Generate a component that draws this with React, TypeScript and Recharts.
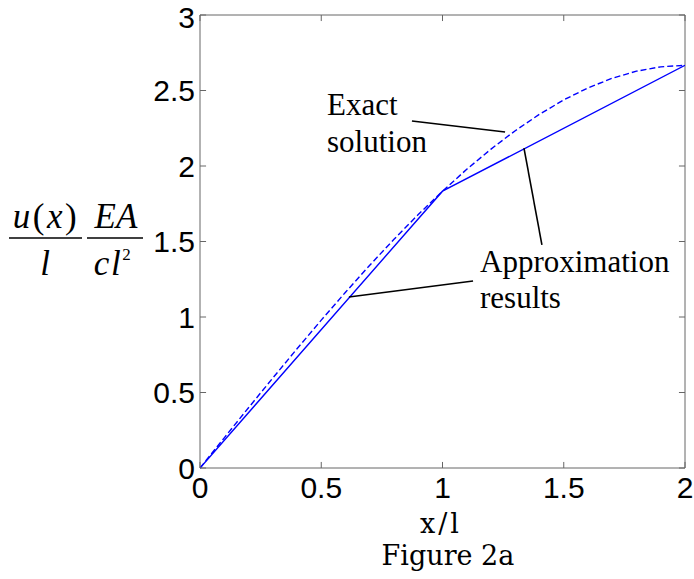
import {
  LineChart,
  Line,
  XAxis,
  YAxis,
  ReferenceLine,
} from "recharts";

// x/l positions and u(x)/l * EA/(cl^2) values
const exactX = [0, 0.1, 0.2, 0.3, 0.4, 0.5, 0.6, 0.7, 0.8, 0.9, 1.0, 1.1, 1.2, 1.3, 1.4, 1.5, 1.6, 1.7, 1.8, 1.9, 2.0];
const exactU = [0, 0.1998, 0.3987, 0.5955, 0.7893, 0.9792, 1.164, 1.3428, 1.5147, 1.6785, 1.8333, 1.9782, 2.112, 2.2338, 2.3427, 2.4375, 2.5173, 2.5812, 2.628, 2.6568, 2.6667];

const approxX = [0, 1, 2];
const approxU = [0, 1.8333, 2.6667];

const xTicks = [0, 0.5, 1, 1.5, 2];
const yTicks = [0, 0.5, 1, 1.5, 2, 2.5, 3];

const exactData = exactX.map((x, i) => ({ x, u: exactU[i] }));
const approxData = approxX.map((x, i) => ({ x, u: approxU[i] }));

const AXIS = "#666666";
const BLUE = "#0000ff";
const SERIF = "'Liberation Serif', 'Times New Roman', serif";
const tickFont = { fontSize: 30, fill: "#000", fontFamily: "'Liberation Sans', Arial, sans-serif" };

export default function App() {
  return (
    <div style={{ position: "relative", width: 694, height: 579, background: "#fff" }}>
      <style>{"body{margin:0}"}</style>
      <LineChart
        width={694}
        height={579}
        margin={{ top: 15, right: 9, bottom: 0, left: 0 }}
      >
        <XAxis
          type="number"
          dataKey="x"
          domain={[0, 2]}
          ticks={xTicks}
          allowDataOverflow
          height={111}
          tickSize={0}
          tickMargin={9}
          tickLine={false}
          stroke={AXIS}
          tick={tickFont}
        />
        <YAxis
          type="number"
          domain={[0, 3]}
          ticks={yTicks}
          width={200}
          tickSize={0}
          tickMargin={5}
          tickLine={false}
          stroke={AXIS}
          tick={tickFont}
        />
        {/* box top and right */}
        <ReferenceLine y={3} stroke={AXIS} />
        <ReferenceLine x={2} stroke={AXIS} />
        {/* inward ticks */}
        {yTicks.map((t) => (
          <ReferenceLine key={"yl" + t} segment={[{ x: 0, y: t }, { x: 0.025, y: t }]} stroke={AXIS} />
        ))}
        {yTicks.map((t) => (
          <ReferenceLine key={"yr" + t} segment={[{ x: 2, y: t }, { x: 1.975, y: t }]} stroke={AXIS} />
        ))}
        {xTicks.map((t) => (
          <ReferenceLine key={"xb" + t} segment={[{ x: t, y: 0 }, { x: t, y: 0.04 }]} stroke={AXIS} />
        ))}
        {xTicks.map((t) => (
          <ReferenceLine key={"xt" + t} segment={[{ x: t, y: 3 }, { x: t, y: 2.96 }]} stroke={AXIS} />
        ))}
        <Line
          data={exactData}
          dataKey="u"
          type="linear"
          stroke={BLUE}
          strokeWidth={1.4}
          strokeDasharray="6 3"
          dot={false}
          isAnimationActive={false}
        />
        <Line
          data={approxData}
          dataKey="u"
          type="linear"
          stroke={BLUE}
          strokeWidth={1.4}
          dot={false}
          isAnimationActive={false}
        />
        {/* annotation leaders */}
        <ReferenceLine segment={[{ x: 0.874, y: 2.298 }, { x: 1.258, y: 2.225 }]} stroke="#000" strokeWidth={1.6} />
        <ReferenceLine segment={[{ x: 1.126, y: 1.238 }, { x: 0.614, y: 1.132 }]} stroke="#000" strokeWidth={1.6} />
        <ReferenceLine segment={[{ x: 1.41, y: 1.477 }, { x: 1.336, y: 2.119 }]} stroke="#000" strokeWidth={1.6} />
      </LineChart>
      <svg
        width={694}
        height={579}
        style={{ position: "absolute", left: 0, top: 0, pointerEvents: "none" }}
      >
        <g fontFamily={SERIF} fontSize={31} fill="#000">
          <text x={327} y={115}>Exact</text>
          <text x={327} y={152}>solution</text>
          <text x={480} y={272}>Approximation</text>
          <text x={480} y={308}>results</text>
        </g>
        <g fontFamily="'DejaVu Serif', serif" fontSize={27} fill="#000">
          <text x={441} y={533} textAnchor="middle" letterSpacing={3}>x/l</text>
          <text x={448} y={565} textAnchor="middle">Figure 2a</text>
        </g>
        <g fontFamily={SERIF} fontSize={35} fill="#000">
          <text x={46} y={228} textAnchor="middle" letterSpacing={2.5}>
            <tspan fontStyle="italic">u</tspan>(<tspan fontStyle="italic">x</tspan>)
          </text>
          <line x1={9} y1={238} x2={82} y2={238} stroke="#000" strokeWidth={1.5} />
          <text x={45} y={275} textAnchor="middle" fontStyle="italic">l</text>
          <text x={116} y={228} textAnchor="middle" fontStyle="italic">EA</text>
          <line x1={87} y1={238} x2={143} y2={238} stroke="#000" strokeWidth={1.5} />
          <text x={113} y={275} textAnchor="middle" fontStyle="italic" letterSpacing={1.5}>
            cl<tspan fontSize={17} dy={-15} fontStyle="normal">2</tspan>
          </text>
        </g>
      </svg>
    </div>
  );
}
